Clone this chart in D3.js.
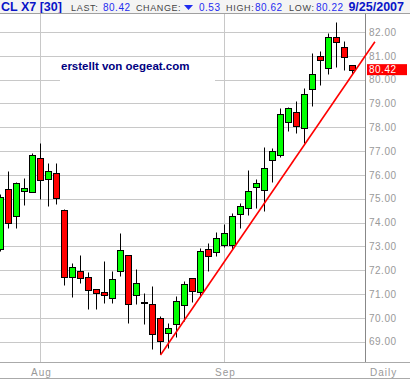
<!DOCTYPE html>
<html>
<head>
<meta charset="utf-8">
<script src="https://cdn.jsdelivr.net/npm/d3@7"></script>
<style>
    body { margin: 0; background: #fff; }
    svg { display: block; font-family: "Liberation Sans", Arial, sans-serif; }
</style>
</head>
<body>
<svg id="chart" width="410" height="379"></svg>
<script>
// daily CL X7 candles, 25 Jul - 25 Sep 2007
const dates = [
    '2007-07-25', '2007-07-26', '2007-07-27', '2007-07-30', '2007-07-31',
    '2007-08-01', '2007-08-02', '2007-08-03', '2007-08-06', '2007-08-07', '2007-08-08', '2007-08-09', '2007-08-10',
    '2007-08-13', '2007-08-14', '2007-08-15', '2007-08-16', '2007-08-17', '2007-08-20', '2007-08-21', '2007-08-22',
    '2007-08-23', '2007-08-24', '2007-08-27', '2007-08-28', '2007-08-29', '2007-08-30', '2007-08-31',
    '2007-09-03', '2007-09-04', '2007-09-05', '2007-09-06', '2007-09-07', '2007-09-10', '2007-09-11', '2007-09-12',
    '2007-09-13', '2007-09-14', '2007-09-17', '2007-09-18', '2007-09-19', '2007-09-20', '2007-09-21', '2007-09-24',
    '2007-09-25'
];

const opens = [
    72.88, 75.39, 74.26, 75.31, 75.27, 76.70, 75.82, 76.07, 74.51, 71.70, 71.95, 71.70, 71.20, 71.07, 70.82,
    71.95, 72.62, 70.96, 70.68, 70.57, 69.98, 69.35, 69.73, 70.54, 71.66, 71.10, 72.89, 72.75, 73.07, 73.07,
    74.36, 74.63, 75.51, 75.37, 76.61, 76.82, 78.21, 78.63, 77.96, 79.59, 80.98, 80.48, 81.78, 81.36, 80.60
];
const highs = [
    75.20, 76.18, 75.72, 75.88, 76.91, 77.34, 76.50, 76.50, 74.58, 72.32, 72.62, 71.92, 71.20, 72.39, 71.97,
    73.55, 72.62, 72.05, 71.03, 71.34, 70.08, 69.80, 70.93, 71.55, 71.66, 72.95, 73.13, 73.59, 73.94, 74.42,
    74.83, 76.21, 75.83, 77.16, 77.14, 78.80, 78.84, 79.10, 79.66, 81.11, 81.20, 81.95, 82.43, 81.62, 80.62
];
const lows = [
    72.80, 73.79, 73.79, 74.72, 75.27, 74.98, 74.71, 74.77, 71.37, 70.89, 71.48, 70.37, 70.37, 70.61, 70.64,
    71.74, 69.77, 70.57, 69.73, 68.70, 68.50, 68.72, 69.18, 69.88, 70.68, 70.89, 71.97, 72.61, 72.99, 72.89,
    73.79, 74.32, 74.63, 74.49, 75.72, 76.77, 77.86, 77.75, 77.33, 78.91, 79.78, 80.25, 80.54, 80.39, 80.22
];
const closes = [
    75.09, 73.99, 75.65, 75.45, 76.82, 75.77, 76.16, 75.02, 71.70, 72.14, 71.66, 71.16, 71.03, 70.95, 71.62,
    72.84, 70.57, 71.45, 70.68, 69.31, 69.03, 69.57, 70.71, 71.42, 71.11, 72.81, 72.60, 73.35, 73.55, 74.28,
    74.70, 75.33, 75.65, 76.28, 76.99, 78.55, 78.80, 78.04, 79.38, 80.22, 80.81, 81.78, 81.57, 80.95, 80.42
];

// trend line drawn under the Sep lows, [candle index, price]
const trendLine = [[20, 68.44], [46.8, 81.59]];

const priceTicks = [69, 70, 71, 72, 73, 74, 75, 76, 77, 78, 79, 80, 81, 82];
const monthLabels = ['Aug', 'Sep'];

const candles = dates.map((d, i) => ({
    date: d3.timeParse('%Y-%m-%d')(d), i: i,
    open: opens[i], high: highs[i], low: lows[i], close: closes[i]
}));

const plotRight = 365.5, plotTop = 13.5, plotBottom = 362.5;

const x = d3.scaleLinear().domain([0, candles.length - 1]).range([0.5, 0.5 + 8 * (candles.length - 1)]);
const y = d3.scaleLinear().domain([69, 82]).range([341.7, 32]);
const py = v => Math.round(y(v)) + 0.5;

const svg = d3.select('#chart');

// header
const header = svg.append('g').attr('class', 'header');
header.append('rect')
    .attr('width', 410).attr('height', 13)
    .style('fill', '#f4f4f4');

const last = candles[candles.length - 1];
const prev = candles[candles.length - 2];
const change = last.close - prev.close;
const fmt = d3.format('.2f');

const headerItems = [
    {x: 1, text: 'CL X7 [30]', fill: '#0a14c8', weight: 'bold', size: 12.5},
    {x: 71, text: 'LAST:', fill: '#444', size: 9, sp: 0.7},
    {x: 103, text: fmt(last.close), fill: '#1f2cf0', size: 10, sp: 0.5},
    {x: 136, text: 'CHANGE:', fill: '#444', size: 9, sp: 0.6},
    {x: 199, text: fmt(Math.abs(change)), fill: '#1f2cf0', size: 10, sp: 0.5},
    {x: 226, text: 'HIGH:', fill: '#444', size: 9, sp: 0.7},
    {x: 255, text: fmt(last.high), fill: '#1f2cf0', size: 10, sp: 0.5},
    {x: 289, text: 'LOW:', fill: '#444', size: 9, sp: 0.7},
    {x: 316, text: fmt(last.low), fill: '#1f2cf0', size: 10, sp: 0.5},
    {x: 404, text: d3.timeFormat('%-m/%-d/%Y')(last.date), fill: '#0a14c8', weight: 'bold', size: 12.5, anchor: 'end'}
];

header.selectAll('text')
    .data(headerItems)
    .enter()
    .append('text')
        .attr('x', d => d.x)
        .attr('y', 11)
        .attr('text-anchor', d => d.anchor || 'start')
        .style('font-size', d => d.size + 'px')
        .style('font-weight', d => d.weight || 'normal')
        .style('letter-spacing', d => (d.sp || 0) + 'px')
        .style('fill', d => d.fill)
        .text(d => d.text);

// down arrow for the change
header.append('path')
    .attr('d', change < 0 ? 'M184,5 L193,5 L188.5,10 Z' : 'M184,10 L193,10 L188.5,5 Z')
    .style('fill', '#1f2cf0');

// grid
const grid = svg.append('g').attr('class', 'grid');
grid.selectAll('.hgrid')
    .data(priceTicks)
    .enter()
    .append('line')
        .attr('class', 'hgrid')
        .attr('x1', 0).attr('x2', plotRight)
        .attr('y1', d => py(d)).attr('y2', d => py(d))
        .style('stroke', '#c8c8c8');

const monthStarts = candles.filter((d, i) => i > 0 && d.date.getMonth() != candles[i - 1].date.getMonth());

grid.selectAll('.vgrid')
    .data(monthStarts)
    .enter()
    .append('line')
        .attr('class', 'vgrid')
        .attr('x1', d => x(d.i)).attr('x2', d => x(d.i))
        .attr('y1', plotTop).attr('y2', plotBottom)
        .style('stroke', '#c8c8c8');

// frame lines
svg.append('line')
    .attr('x1', 0).attr('x2', 410).attr('y1', plotTop).attr('y2', plotTop)
    .style('stroke', '#a0a0a0');
svg.append('line')
    .attr('x1', plotRight).attr('x2', plotRight).attr('y1', plotTop).attr('y2', plotBottom)
    .style('stroke', '#888');
svg.append('line')
    .attr('x1', 0).attr('x2', 410).attr('y1', plotBottom).attr('y2', plotBottom)
    .style('stroke', '#aaa');
svg.append('line')
    .attr('x1', 0).attr('x2', 410).attr('y1', 378.5).attr('y2', 378.5)
    .style('stroke', '#aaa');

// watermark box
svg.append('rect')
    .attr('x', 60).attr('y', 57).attr('width', 155).attr('height', 28)
    .style('fill', '#fff');
svg.append('text')
    .attr('x', 61).attr('y', 70)
    .style('font-size', '11.5px')
    .style('font-weight', 'bold')
    .style('fill', '#00007f')
    .text('erstellt von oegeat.com');

// candles
const candle = svg.append('g')
    .attr('class', 'candles')
    .selectAll('.candle')
    .data(candles)
    .enter()
    .append('g')
        .attr('class', 'candle');

candle.append('line')
    .attr('x1', d => x(d.i)).attr('x2', d => x(d.i))
    .attr('y1', d => py(d.high)).attr('y2', d => py(d.low))
    .style('stroke', '#000');

candle.append('rect')
    .attr('x', d => x(d.i) - 3)
    .attr('y', d => py(Math.max(d.open, d.close)))
    .attr('width', 6)
    .attr('height', d => Math.max(1, py(Math.min(d.open, d.close)) - py(Math.max(d.open, d.close))))
    .style('fill', d => d.close >= d.open ? '#00ff00' : '#ff0000')
    .style('stroke', '#000');

// trend line
svg.append('path')
    .datum(trendLine)
    .attr('d', d3.line().x(d => x(d[0])).y(d => y(d[1])))
    .style('fill', 'none')
    .style('stroke', '#ff0000')
    .style('stroke-width', 1.6);

// price axis
const axis = svg.append('g')
    .attr('transform', `translate(${plotRight},0)`)
    .call(d3.axisRight(y).tickValues(priceTicks).tickFormat(fmt).tickSize(0).tickPadding(3.5));
axis.select('.domain').remove();
axis.selectAll('text')
    .style('font-family', '"Liberation Sans", Arial, sans-serif')
    .style('font-size', '10px')
    .style('letter-spacing', '0.5px')
    .style('fill', '#999');

// last price tag
svg.append('rect')
    .attr('x', 367).attr('y', y(last.close) - 5.5)
    .attr('width', 40).attr('height', 11)
    .style('fill', '#ff0000');
svg.append('text')
    .attr('x', 369).attr('y', y(last.close) + 3.5)
    .style('font-size', '10px')
    .style('letter-spacing', '0.5px')
    .style('fill', '#fff')
    .text(fmt(last.close));

// month labels
svg.selectAll('.month')
    .data(monthStarts)
    .enter()
    .append('text')
        .attr('class', 'month')
        .attr('x', d => x(d.i) + 1)
        .attr('y', 375.5)
        .attr('text-anchor', 'middle')
        .style('font-size', '10px')
        .style('letter-spacing', '1px')
        .style('fill', '#999')
        .text((d, i) => monthLabels[i]);

svg.append('text')
    .attr('x', 370).attr('y', 375.5)
    .style('font-size', '10px')
    .style('letter-spacing', '1px')
    .style('fill', '#999')
    .text('Daily');
</script>
</body>
</html>
